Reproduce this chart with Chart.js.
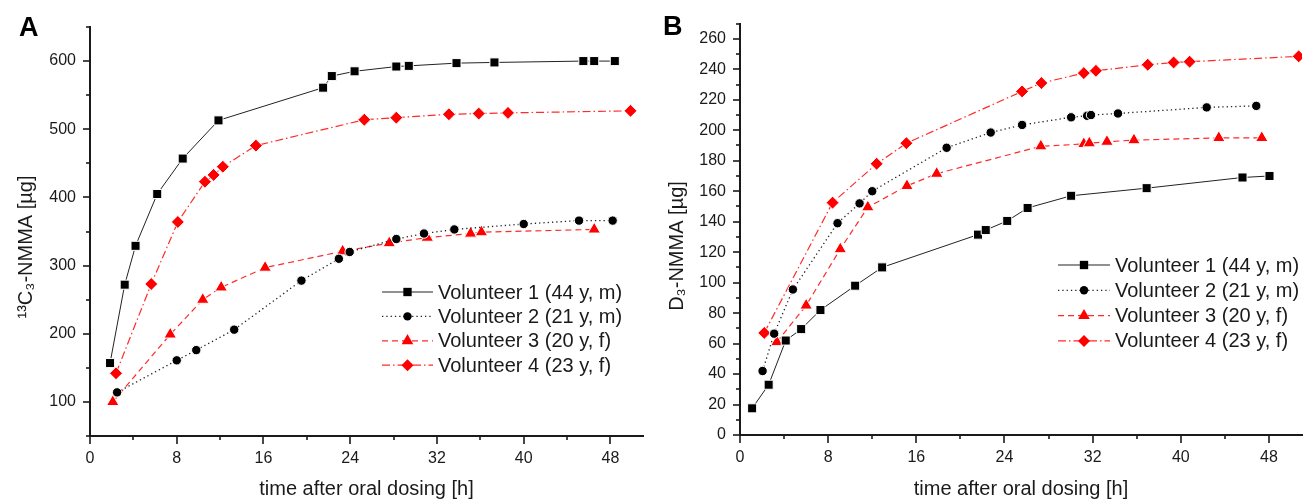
<!DOCTYPE html>
<html>
<head>
<meta charset="utf-8">
<script src="https://cdn.jsdelivr.net/npm/chart.js@4.4.1/dist/chart.umd.min.js"></script>
<style>
  body { margin: 0; background: #fff; }
  #wrap { position: relative; width: 1311px; height: 499px; overflow: hidden; }
  #wrap canvas { position: absolute; top: 0; }
  #chartA { left: 0; }
  #chartB { left: 655px; }
</style>
</head>
<body>
<div id="wrap">
  <canvas id="chartA" width="655" height="499"></canvas>
  <canvas id="chartB" width="656" height="499"></canvas>
</div>
<script>
// ---- data ----
const LABELS = ['Volunteer 1 (44 y, m)', 'Volunteer 2 (21 y, m)', 'Volunteer 3 (20 y, f)', 'Volunteer 4 (23 y, f)'];
const X_TITLE = 'time after oral dosing [h]';

// panel A : 13C3-NMMA [µg]
const a1x = [1.85, 3.2, 4.2, 6.2, 8.55, 11.85, 21.5, 22.3, 24.4, 28.25, 29.4, 33.8, 37.3, 45.5, 46.5, 48.4];
const a1y = [157, 272, 329, 405, 457, 513, 561, 578, 585, 592, 593, 597, 598, 600, 600, 600];
const a2x = [2.5, 8.0, 9.8, 13.3, 19.5, 22.95, 23.95, 28.25, 30.8, 33.6, 40.0, 45.1, 48.2];
const a2y = [114, 161, 176, 206, 278, 310, 320, 339, 347, 353, 361, 366, 366];
const a3x = [2.1, 7.4, 10.4, 12.1, 16.15, 23.3, 27.6, 31.1, 35.1, 36.1, 46.5];
const a3y = [100, 199, 250, 268, 297, 321, 333, 341, 347, 349, 353];
const a4x = [2.4, 5.65, 8.1, 10.6, 11.4, 12.25, 15.3, 25.3, 28.25, 33.1, 35.85, 38.55, 49.85];
const a4y = [142, 273, 364, 423, 433, 445, 476, 514, 517, 522, 523, 524, 527];

// panel B : D3-NMMA [µg]
const b1x = [1.1, 2.6, 4.15, 5.55, 7.3, 10.45, 12.9, 21.6, 22.3, 24.25, 26.1, 30.05, 36.9, 45.6, 48.05];
const b1y = [17.5, 33, 62, 69.5, 82, 98, 110, 131.5, 134.5, 140.5, 149, 157, 162, 169, 170];
const b2x = [2.05, 3.1, 4.8, 8.85, 10.85, 12.0, 18.75, 22.75, 25.6, 30.05, 31.5, 31.85, 34.3, 42.35, 46.85];
const b2y = [42, 66.5, 95.5, 139, 152, 160, 188.5, 198.5, 203.5, 208.5, 209.5, 210, 211, 215, 216];
const b3x = [3.35, 6.0, 9.1, 11.6, 15.15, 17.85, 27.3, 31.2, 31.7, 33.3, 35.75, 43.45, 47.35];
const b3y = [61, 85, 122, 149.5, 163.5, 171.5, 189.5, 191, 191.5, 192.5, 193.5, 195, 195];
const b4x = [2.2, 8.4, 12.4, 15.1, 25.6, 27.35, 31.2, 32.3, 37.0, 39.35, 40.8, 50.7];
const b4y = [67, 152.5, 178, 191.5, 225.5, 231, 237.5, 239, 243, 244.5, 245, 248.5];

const FONT = "'Liberation Sans', Arial, sans-serif";
const INK = '#1a1a1a';

const STYLES = [
  { borderColor: '#222', borderWidth: 1, borderDash: [], pointStyle: 'rect', pointRadius: 6.4, pointBackgroundColor: '#000' },
  { borderColor: '#222', borderWidth: 1.3, borderDash: [1.3, 3], pointStyle: 'circle', pointRadius: 4.7, pointBackgroundColor: '#000' },
  { borderColor: '#ff2a2a', borderWidth: 1.2, borderDash: [6, 4], pointStyle: 'triangle', pointRadius: 7.2, pointBackgroundColor: '#ff0000' },
  { borderColor: '#ff2a2a', borderWidth: 1.2, borderDash: [8, 3, 1.5, 3], pointStyle: 'rectRot', pointRadius: 6.5, pointBackgroundColor: '#ff0000' }
];

function pts(xs, ys) {
  return xs.map((x, i) => ({ x: x, y: ys[i] }));
}

function makeSets(series) {
  return series.map((s, i) => Object.assign({
    label: LABELS[i],
    data: pts(s[0], s[1]),
    showLine: true,
    tension: 0,
    pointBorderColor: '#fff',
    pointBorderWidth: 1
  }, STYLES[i]));
}

// outward tick marks, long for labelled ticks, short for the others
const axisTicks = {
  id: 'axisTicks',
  afterDraw(chart) {
    const ctx = chart.ctx;
    const xs = chart.scales.x, ys = chart.scales.y;
    ctx.save();
    ctx.strokeStyle = INK;
    ctx.lineWidth = 1.6;
    xs.ticks.forEach(t => {
      const px = Math.round(xs.getPixelForValue(t.value));
      const len = t.label !== '' ? 8 : 4;
      ctx.beginPath(); ctx.moveTo(px, xs.top); ctx.lineTo(px, xs.top + len); ctx.stroke();
    });
    ys.ticks.forEach(t => {
      const py = Math.round(ys.getPixelForValue(t.value));
      const len = t.label !== '' ? 7 : 4;
      ctx.beginPath(); ctx.moveTo(ys.right, py); ctx.lineTo(ys.right - len, py); ctx.stroke();
    });
    ctx.restore();
  }
};

// panel letter, rotated y title and the line+marker legend
const panelText = {
  id: 'panelText',
  afterDraw(chart, args, o) {
    const ctx = chart.ctx;
    ctx.save();
    ctx.fillStyle = '#000';
    ctx.font = 'bold 27px ' + FONT;
    ctx.textBaseline = 'top';
    ctx.fillText(o.letter, o.letterX, o.letterY);

    ctx.fillStyle = INK;
    ctx.font = '20px ' + FONT;
    ctx.translate(o.titleX, o.titleY);
    ctx.rotate(-Math.PI / 2);
    ctx.textAlign = 'center';
    ctx.textBaseline = 'middle';
    ctx.fillText(o.yTitle, 0, 0);
    ctx.restore();

    chart.data.datasets.forEach((ds, i) => {
      const y = o.legTop + i * o.legRow;
      ctx.save();
      ctx.strokeStyle = ds.borderColor;
      ctx.lineWidth = ds.borderWidth;
      ctx.setLineDash(ds.borderDash);
      ctx.beginPath(); ctx.moveTo(o.legLeft, y); ctx.lineTo(o.legLeft + o.legLine, y); ctx.stroke();
      ctx.setLineDash([]);
      ctx.fillStyle = ds.pointBackgroundColor;
      Chart.helpers.drawPoint(ctx, { pointStyle: ds.pointStyle, radius: ds.pointRadius - 0.5, rotation: 0, borderWidth: 0 },
        o.legLeft + o.legLine / 2, y);
      ctx.fillStyle = INK;
      ctx.font = '20px ' + FONT;
      ctx.textBaseline = 'middle';
      ctx.fillText(ds.label, o.legLeft + o.legLine + 5, y + 1);
      ctx.restore();
    });
  }
};

function makeOptions(cfg) {
  return {
    responsive: false,
    animation: false,
    layout: { padding: { top: cfg.padTop, right: cfg.padRight, left: 0, bottom: 0 } },
    plugins: {
      legend: { display: false },
      tooltip: { enabled: false },
      panelText: cfg.text
    },
    scales: {
      x: {
        type: 'linear', min: 0, max: 51,
        afterFit: s => { s.height = cfg.xHeight; },
        grid: { display: false, drawTicks: false },
        border: { display: true, color: INK, width: 2 },
        ticks: {
          stepSize: 4, includeBounds: false, autoSkip: false, maxRotation: 0,
          padding: 13, color: INK, font: { family: FONT, size: 16 },
          callback: v => (v % 8 === 0 ? String(v) : '')
        },
        title: { display: true, text: X_TITLE, color: INK, font: { family: FONT, size: 20 }, padding: { top: 0, bottom: -2 } }
      },
      y: {
        type: 'linear', min: cfg.yMin, max: cfg.yMax,
        afterFit: s => { s.width = cfg.yWidth; },
        grid: { display: false, drawTicks: false },
        border: { display: true, color: INK, width: 2 },
        ticks: {
          stepSize: cfg.yStep, includeBounds: false, autoSkip: false,
          padding: 14, color: INK, font: { family: FONT, size: 16 },
          callback: v => (v % cfg.yMajor === 0 && v >= cfg.yLabMin && v <= cfg.yLabMax ? String(v) : '')
        }
      }
    }
  };
}

new Chart(document.getElementById('chartA'), {
  type: 'scatter',
  data: { datasets: makeSets([[a1x, a1y], [a2x, a2y], [a3x, a3y], [a4x, a4y]]) },
  options: makeOptions({
    padTop: 27, padRight: 12, xHeight: 63, yWidth: 90,
    yMin: 50, yMax: 650, yStep: 50, yMajor: 100, yLabMin: 100, yLabMax: 600,
    text: {
      letter: 'A', letterX: 19, letterY: 15,
      yTitle: '¹³C₃-NMMA [µg]', titleX: 26, titleY: 247,
      legLeft: 382, legLine: 51, legTop: 292, legRow: 24.4
    }
  }),
  plugins: [axisTicks, panelText]
});

new Chart(document.getElementById('chartB'), {
  type: 'scatter',
  data: { datasets: makeSets([[b1x, b1y], [b2x, b2y], [b3x, b3y], [b4x, b4y]]) },
  options: makeOptions({
    padTop: 22, padRight: 9, xHeight: 64, yWidth: 85,
    yMin: 0, yMax: 270, yStep: 10, yMajor: 20, yLabMin: 0, yLabMax: 260,
    text: {
      letter: 'B', letterX: 8, letterY: 14,
      yTitle: 'D₃-NMMA [µg]', titleX: 22, titleY: 246,
      legLeft: 403, legLine: 52, legTop: 265, legRow: 25.3
    }
  }),
  plugins: [axisTicks, panelText]
});
</script>
</body>
</html>
